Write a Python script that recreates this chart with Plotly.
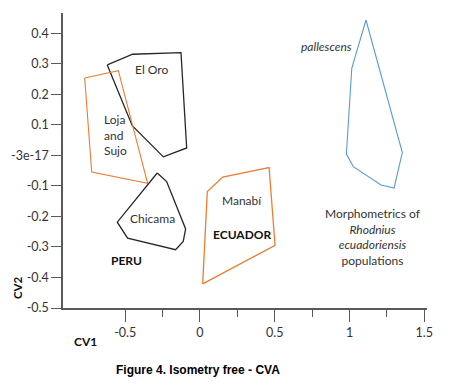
import plotly.graph_objects as go

# Polygon vertices (CV1, CV2)
el_oro_cv1 = [-0.620, -0.450, -0.127, -0.089, -0.245, -0.453]
el_oro_cv2 = [0.296, 0.331, 0.336, 0.024, -0.005, 0.097]

loja_cv1 = [-0.771, -0.546, -0.350, -0.724]
loja_cv2 = [0.253, 0.277, -0.092, -0.055]

chicama_cv1 = [-0.286, -0.223, -0.096, -0.112, -0.163, -0.484, -0.553]
chicama_cv2 = [-0.058, -0.086, -0.241, -0.282, -0.309, -0.271, -0.219]

manabi_cv1 = [0.018, 0.049, 0.152, 0.462, 0.502]
manabi_cv2 = [-0.421, -0.119, -0.071, -0.040, -0.295]

pallescens_cv1 = [1.110, 1.353, 1.298, 1.211, 1.025, 0.979, 1.015]
pallescens_cv2 = [0.443, 0.009, -0.107, -0.097, -0.037, 0.004, 0.285]

y_tickvals = [0.4, 0.3, 0.2, 0.1, 0.0, -0.1, -0.2, -0.3, -0.4, -0.5]
y_ticktext = ["0.4", "0.3", "0.2", "0.1", "-3e-17", "-0.1", "-0.2", "-0.3", "-0.4", "-0.5"]
x_tickvals = [-0.5, 0, 0.5, 1, 1.5]
x_ticktext = ["-0.5", "0", "0.5", "1", "1.5"]
x_minor_vals = [-0.25, 0.25, 0.75, 1.25]

BLACK = "#262626"
ORANGE = "#ED7D31"
BLUE = "#5B9BD5"
FONT = "Lato"

def closed(a):
    return list(a) + [a[0]]

fig = go.Figure()
for xs, ys, col, w in [
    (el_oro_cv1, el_oro_cv2, BLACK, 1.3),
    (loja_cv1, loja_cv2, ORANGE, 1.1),
    (chicama_cv1, chicama_cv2, BLACK, 1.3),
    (manabi_cv1, manabi_cv2, ORANGE, 1.3),
    (pallescens_cv1, pallescens_cv2, BLUE, 1.1),
]:
    fig.add_trace(go.Scatter(x=closed(xs), y=closed(ys), mode="lines",
                             line=dict(color=col, width=w), hoverinfo="skip",
                             showlegend=False))

txt = dict(family=FONT, size=12, color="#333333")
bold = dict(family=FONT, size=12, color="#111111")
ann = [
    dict(x=-0.323, y=0.280, text="El Oro", font=txt),
    dict(x=-0.653, y=0.067, text="Loja<br>and<br>Sujo", font=txt, xanchor="left", align="left"),
    dict(x=-0.316, y=-0.206, text="Chicama", font=txt),
    dict(x=-0.490, y=-0.344, text="<b>PERU</b>", font=bold),
    dict(x=0.279, y=-0.148, text="Manabí", font=txt),
    dict(x=0.283, y=-0.258, text="<b>ECUADOR</b>", font=bold),
    dict(x=0.847, y=0.356, text="<i>pallescens</i>", font=txt),
    dict(x=1.159, y=-0.268, text="Morphometrics of<br><i>Rhodnius</i><br><i>ecuadoriensis</i><br>populations",
         font=txt, align="center"),
]
for a in ann:
    a.setdefault("xanchor", "center")
    fig.add_annotation(showarrow=False, yanchor="middle", xref="x", yref="y", **a)

paper_anns = [
    dict(text="<b>CV1</b>", x=(85 - 63) / 364, y=(308 - 341) / 295,
         font=dict(family=FONT, size=12, color="#111111")),
    dict(text="<b>CV2</b>", x=(17 - 63) / 364, y=(308 - 288) / 295, textangle=-90,
         font=dict(family=FONT, size=11.5, color="#111111")),
    dict(text="<b>Figure 4. Isometry free - CVA</b>", x=(198 - 63) / 364, y=(308 - 370) / 295,
         font=dict(family="Liberation Sans", size=12, color="#000000")),
]
for a in paper_anns:
    fig.add_annotation(xref="paper", yref="paper", showarrow=False,
                       xanchor="center", yanchor="middle", borderpad=0, **a)

# page body has an 8px default margin, so the figure is offset by 8px
fig.update_layout(
    width=450, height=384,
    margin=dict(l=55, r=31, t=5, b=84, autoexpand=False),
    paper_bgcolor="white", plot_bgcolor="white",
    xaxis=dict(range=[-0.916, 1.518], showgrid=False, zeroline=False, showline=True,
               linecolor="#595959", linewidth=1.5, ticks="outside", ticklen=12, tickwidth=1.2,
               tickcolor="#595959", tickvals=x_tickvals, ticktext=x_ticktext,
               tickfont=dict(family=FONT, size=12.5, color="#333333"),
               minor=dict(tickvals=x_minor_vals, ticks="outside", ticklen=7, tickcolor="#595959",
                          tickwidth=1.2, showgrid=False)),
    yaxis=dict(range=[-0.5, 0.466], showgrid=False, zeroline=False, showline=True,
               linecolor="#595959", linewidth=1.5, ticks="outside", ticklen=10, tickwidth=1.2,
               tickcolor="#595959", tickvals=y_tickvals, ticktext=y_ticktext,
               tickfont=dict(family=FONT, size=12.5, color="#333333")),
)
fig.write_html("out.html")
